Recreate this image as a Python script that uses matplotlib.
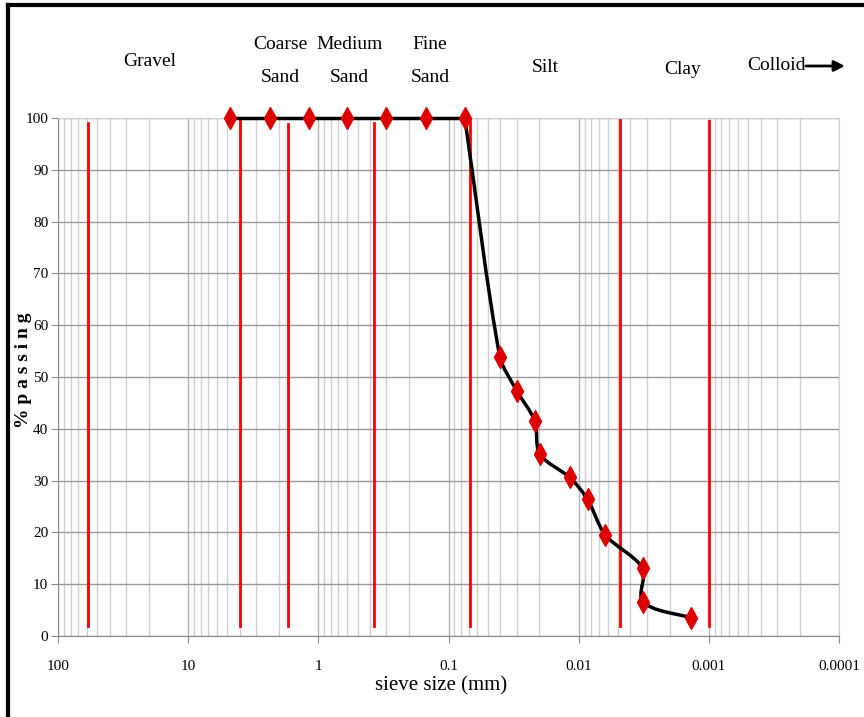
import numpy as np
import matplotlib
matplotlib.use("Agg")
import matplotlib.pyplot as plt
from matplotlib.path import Path
from matplotlib.patches import PathPatch
from matplotlib.lines import Line2D
from matplotlib.transforms import blended_transform_factory

plt.rcParams['font.family'] = ['Liberation Serif', 'DejaVu Serif']

# grain size distribution (sieve + hydrometer)
size_mm = [4.75, 2.36, 1.18, 0.6, 0.3, 0.15, 0.075,
           0.0403, 0.0298, 0.0217, 0.0199, 0.0117, 0.00855, 0.00625,
           0.00323, 0.00320, 0.00137]
passing = [100, 100, 100, 100, 100, 100, 100,
           53.9, 47.3, 41.5, 35.1, 30.6, 26.4, 19.5,
           13.1, 6.6, 3.5]
n_sieve = 7  # first points are sieves, drawn with straight segments

# red soil-class boundary lines
bound_mm = [59, 4.0, 1.72, 0.375, 0.068, 0.0048, 0.001]
bound_top = [99.1, 99.6, 98.8, 99.0, 99.6, 100, 99.4]
bound_bottom = 2

# class labels above the chart
zone_names = ["Gravel", "Coarse\nSand", "Medium\nSand", "Fine\nSand", "Silt", "Clay"]
zone_x = [19.6, 1.97, 0.58, 0.139, 0.0179, 0.00158]
zone_y_px = [62, 61, 61, 61, 67, 70]

xtick_vals = [100, 10, 1, 0.1, 0.01, 0.001, 0.0001]
xtick_labels = ["100", "10", "1", "0.1", "0.01", "0.001", "0.0001"]
ytick_vals = list(range(0, 101, 10))

W, H = 864, 717
fig = plt.figure(figsize=(W / 100, H / 100), dpi=100)
ax = fig.add_axes([58 / W, 1 - 636 / H, (839 - 58) / W, (636 - 118) / H])

ax.set_xscale('log')
ax.set_xlim(100, 0.0001)
ax.set_ylim(0, 100)

ax.set_xticks(xtick_vals)
ax.set_xticklabels(xtick_labels)
ax.set_yticks(ytick_vals)
ax.xaxis.set_minor_locator(matplotlib.ticker.LogLocator(base=10, subs=np.arange(2, 10)))
ax.xaxis.set_minor_formatter(matplotlib.ticker.NullFormatter())

ax.grid(True, which='major', axis='y', color='#9a9a9a', lw=1.0)
ax.grid(True, which='major', axis='x', color='#b4b4b4', lw=1.0)
ax.grid(True, which='minor', axis='x', color='#d0d0d0', lw=1.0)
ax.set_axisbelow(True)
for s in ax.spines.values():
    s.set_color('#d0d0d0')
ax.spines['left'].set_color('#8a8a8a')
ax.spines['bottom'].set_color('#8a8a8a')
ax.tick_params(axis='both', which='major', color='#8a8a8a', length=5, labelsize=11)
ax.tick_params(axis='x', which='major', pad=12)
ax.tick_params(axis='y', which='major', pad=2)
ax.tick_params(axis='x', which='minor', length=0)

# boundary lines
for xb, top in zip(bound_mm, bound_top):
    ax.plot([xb, xb], [bound_bottom, top], color='#ff0000', lw=2, zorder=2)

# sieve part: straight line
ax.plot(size_mm[:n_sieve], passing[:n_sieve], color='black', lw=2.5, zorder=3,
        clip_on=False)

# hydrometer part: smoothed line, bezier control points worked out in screen-like units
dec_px, pct_px = 130.2, 5.18
sx = -np.log10(size_mm[n_sieve - 1:]) * dec_px
sy = np.array(passing[n_sieve - 1:], dtype=float) * pct_px
pts = np.column_stack([sx, sy])
n = len(pts)
tang = []
for i in range(n):
    a = pts[max(i - 1, 0)]
    b = pts[min(i + 1, n - 1)]
    t = b - a
    tang.append(t / np.linalg.norm(t))
k = 0.28


def to_data(p):
    return (10 ** (-p[0] / dec_px), p[1] / pct_px)


verts = [to_data(pts[0])]
codes = [Path.MOVETO]
for i in range(n - 1):
    d = np.linalg.norm(pts[i + 1] - pts[i])
    c1 = pts[i] + tang[i] * d * k
    c2 = pts[i + 1] - tang[i + 1] * d * k
    for c in (c1, c2, pts[i + 1]):
        verts.append(to_data(c))
        codes.append(Path.CURVE4)
ax.add_patch(PathPatch(Path(verts, codes), facecolor='none', edgecolor='black',
                       lw=2.5, zorder=3))

ax.plot(size_mm, passing, linestyle='none', marker='d', markersize=11,
        color='#dd0000', zorder=4, clip_on=False)

# zone labels
trans = blended_transform_factory(ax.transData, fig.transFigure)
for name, xz, ypx in zip(zone_names, zone_x, zone_y_px):
    ax.text(xz, 1 - ypx / H, name, transform=trans, ha='center', va='center',
            fontsize=14, linespacing=2.3, clip_on=False)
ax.text(1.8e-4, 1 - 66 / H, "Colloid", transform=trans, ha='right', va='center',
        fontsize=14, clip_on=False)
ax.annotate('', xy=(9.0e-5, 1 - 66 / H), xytext=(1.8e-4, 1 - 66 / H),
            xycoords=trans, textcoords=trans,
            arrowprops=dict(arrowstyle='-|>', color='black', lw=2,
                            mutation_scale=16, shrinkA=0, shrinkB=0))

fig.text(441 / W, 1 - 686 / H, "sieve size (mm)", ha='center', va='center', fontsize=15)
fig.text(24 / W, 1 - 370 / H, "% p a s s i n g", ha='center', va='center',
         rotation=90, fontsize=14, fontweight='bold')

# outer frame (left and top)
fig.add_artist(Line2D([8 / W, 8 / W], [0, 1 - 5 / H], transform=fig.transFigure,
                      color='black', lw=3))
fig.add_artist(Line2D([8 / W, 1], [1 - 5 / H, 1 - 5 / H], transform=fig.transFigure,
                      color='black', lw=3))

fig.savefig("out.png", dpi=100)
